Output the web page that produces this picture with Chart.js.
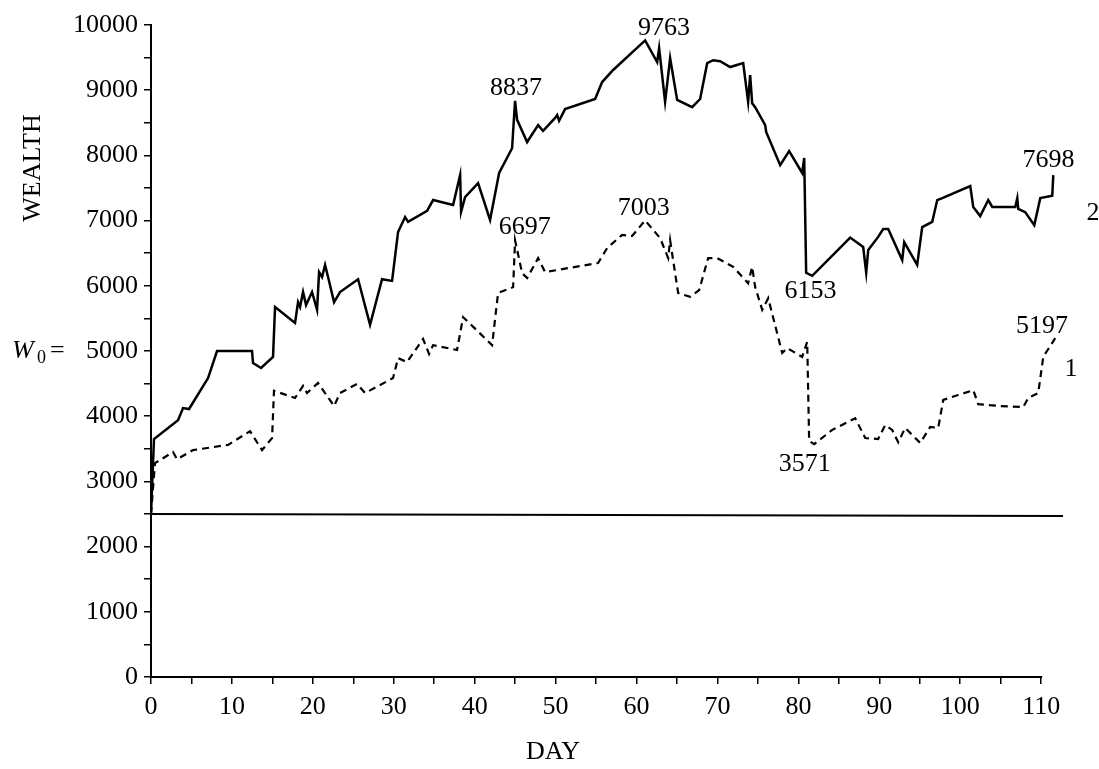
<!DOCTYPE html>
<html>
<head>
<meta charset="utf-8">
<script src="https://cdn.jsdelivr.net/npm/chart.js@4.4.0/dist/chart.umd.min.js"></script>
<style>
  body { margin: 0; background: #fff; }
  #wrap { width: 1099px; height: 769px; }
</style>
</head>
<body>
<div id="wrap"><canvas id="wealthChart" width="1099" height="769"></canvas></div>
<script>
// curve 2 (solid)
const days2 = [0, 0.37, 3.34, 3.96, 4.70, 7.05, 8.16, 12.48, 12.61, 13.60, 15.08, 15.33, 17.80, 18.17, 18.42, 18.79,
  19.16, 19.90, 20.52, 20.77, 21.14, 21.51, 21.88, 22.62, 23.36, 25.59, 27.07, 28.55, 29.79, 30.53, 31.40, 31.77,
  34.12, 34.86, 37.33, 38.20, 38.32, 38.81, 40.42, 41.90, 43.02, 44.62, 44.99, 45.24, 46.48, 47.84, 48.45, 49.94,
  50.19, 50.43, 51.17, 54.88, 55.75, 57.11, 61.06, 62.55, 62.79, 63.53, 64.15, 65.02, 66.87, 67.86, 68.73, 69.47,
  70.33, 71.57, 73.18, 73.79, 74.04, 74.29, 74.66, 75.90, 76.02, 77.75, 78.86, 80.47, 80.72, 80.96, 81.71, 86.40,
  88.01, 88.38, 88.63, 89.86, 90.48, 91.10, 92.83, 93.08, 94.68, 95.30, 96.54, 97.16, 97.78, 101.24, 101.61, 102.47,
  103.46, 103.96, 106.80, 107.05, 107.17, 108.03, 109.15, 109.89, 111.37, 111.50];
const wealth2 = [2500, 3650, 3940, 4125, 4110, 4585, 5000, 5000, 4815, 4740, 4910, 5675, 5430, 5750, 5675, 5905,
  5705, 5905, 5630, 6210, 6135, 6320, 6135, 5750, 5905, 6100, 5400, 6100, 6075, 6825, 7055, 6980,
  7150, 7315, 7240, 7700, 7135, 7360, 7575, 7010, 7730, 8110, 8837, 8545, 8205, 8465, 8375, 8575,
  8620, 8530, 8710, 8865, 9125, 9310, 9763, 9430, 9645, 8820, 9490, 8850, 8740, 8865, 9415, 9460,
  9445, 9355, 9415, 8820, 9230, 8800, 8740, 8465, 8360, 7850, 8065, 7730, 7960, 6200, 6153, 6740,
  6595, 6200, 6550, 6750, 6870, 6870, 6395, 6670, 6320, 6900, 6980, 7315, 7345, 7530, 7210, 7070,
  7315, 7210, 7210, 7345, 7180, 7130, 6930, 7345, 7380, 7698];

// curve 1 (dashed)
const days1 = [0, 0.49, 2.72, 3.21, 5.19, 9.52, 12.24, 13.72, 14.96, 15.20, 17.80, 18.79, 19.28, 20.64, 22.62, 23.36,
  25.46, 26.45, 29.91, 30.53, 31.64, 33.62, 34.36, 34.86, 37.82, 38.57, 42.15, 42.89, 44.75, 44.99, 45.86, 46.48,
  47.84, 48.70, 55.25, 56.37, 58.22, 59.46, 61.06, 62.92, 63.91, 64.15, 64.52, 65.14, 66.63, 67.74, 68.85, 69.96,
  71.94, 73.79, 74.29, 74.66, 75.53, 76.27, 78.00, 78.62, 80.47, 81.09, 81.33, 81.95, 84.18, 87.02, 88.26, 89.86,
  90.73, 91.59, 92.34, 93.20, 95.06, 96.29, 97.28, 97.90, 99.75, 101.61, 102.22, 104.94, 107.79, 108.41, 109.64,
  110.26, 111.74];
const wealth1 = [2500, 3280, 3450, 3340, 3480, 3560, 3770, 3480, 3665, 4390, 4280, 4465, 4355, 4510, 4155, 4355,
  4495, 4355, 4585, 4890, 4830, 5185, 4955, 5090, 5015, 5520, 5090, 5890, 5980, 6697, 6195, 6120,
  6425, 6210, 6350, 6580, 6780, 6765, 7003, 6730, 6425, 6700, 6395, 5890, 5830, 5935, 6425, 6425,
  6290, 6040, 6290, 5980, 5630, 5810, 4970, 5045, 4910, 5140, 3620, 3571, 3790, 3970, 3665, 3650,
  3865, 3790, 3600, 3820, 3590, 3835, 3820, 4250, 4325, 4400, 4185, 4155, 4140, 4280, 4355,
  4910, 5197];

// starting wealth line
const baseDays = [0, 112.7];
const baseWealth = [2500, 2470];

const xTicks = [0, 10, 20, 30, 40, 50, 60, 70, 80, 90, 100, 110];
const yTicks = [0, 1000, 2000, 3000, 4000, 5000, 6000, 7000, 8000, 9000, 10000];
const X_AXIS_END = 110;

// value labels next to the curves
const peakLabels = ["9763", "8837", "7003", "6697", "6153", "7698", "5197", "3571"];
const peakDays = [63.4, 45.1, 60.9, 46.2, 81.5, 110.9, 110.1, 80.8];
const peakWealth = [9954, 9034, 7193, 6902, 5920, 7929, 5383, 3267];

const FONT = '"Liberation Serif", "Times New Roman", serif';

function toPoints(xs, ys) {
    return xs.map((x, i) => ({ x: x, y: ys[i] }));
}

const textPlugin = {
    id: "textPlugin",
    beforeDatasetsDraw(chart) {
        // bottom axis line only runs to day 110
        const c = chart.ctx;
        const xs = chart.scales.x;
        const yb = chart.chartArea.bottom;
        c.save();
        c.strokeStyle = "#000";
        c.lineWidth = 2;
        c.beginPath();
        c.moveTo(xs.getPixelForValue(0) - 1, yb);
        c.lineTo(xs.getPixelForValue(X_AXIS_END) + 1, yb);
        c.stroke();
        c.restore();
    },
    afterDraw(chart) {
        const ctx = chart.ctx;
        const xs = chart.scales.x, ys = chart.scales.y;
        ctx.save();
        ctx.fillStyle = "#000";
        ctx.font = "26px " + FONT;
        ctx.textAlign = "center";
        ctx.textBaseline = "middle";

        peakLabels.forEach((t, i) => {
            ctx.fillText(t, xs.getPixelForValue(peakDays[i]), ys.getPixelForValue(peakWealth[i]));
        });

        // curve numbers
        ctx.fillText("2", xs.getPixelForValue(116.4), ys.getPixelForValue(7117));
        ctx.fillText("1", xs.getPixelForValue(113.7), ys.getPixelForValue(4724));

        // axis titles
        ctx.fillText("DAY", 553, 752);
        ctx.save();
        ctx.translate(33, 168);
        ctx.rotate(-Math.PI / 2);
        ctx.fillText("WEALTH", 0, 0);
        ctx.restore();

        // W0 =
        const y5 = ys.getPixelForValue(5000);
        ctx.textAlign = "left";
        ctx.font = "italic 26px " + FONT;
        ctx.fillText("W", 12, y5);
        ctx.font = "18px " + FONT;
        ctx.fillText("0", 37, y5 + 7);
        ctx.font = "26px " + FONT;
        ctx.fillText("=", 50, y5);
        ctx.restore();
    }
};

const ctx = document.getElementById("wealthChart").getContext("2d");
new Chart(ctx, {
    type: "line",
    data: {
        datasets: [
            {
                label: "2",
                data: toPoints(days2, wealth2),
                borderColor: "#000",
                borderWidth: 2.5,
                pointRadius: 0,
                tension: 0
            },
            {
                label: "1",
                data: toPoints(days1, wealth1),
                borderColor: "#000",
                borderWidth: 2.2,
                borderDash: [7, 5],
                pointRadius: 0,
                tension: 0
            },
            {
                label: "W0",
                data: toPoints(baseDays, baseWealth),
                borderColor: "#000",
                borderWidth: 2,
                pointRadius: 0,
                tension: 0
            }
        ]
    },
    options: {
        responsive: false,
        animation: false,
        layout: { padding: { top: 25, right: 36, left: 0, bottom: 0 } },
        plugins: {
            legend: { display: false },
            tooltip: { enabled: false }
        },
        scales: {
            x: {
                type: "linear",
                min: 0,
                max: 112.7,
                border: { display: false },
                grid: { drawOnChartArea: false, drawTicks: true, tickLength: 7, color: "#000", lineWidth: 1.5 },
                ticks: {
                    autoSkip: false,
                    maxRotation: 0,
                    padding: 8,
                    color: "#000",
                    font: { family: FONT, size: 26 },
                    callback: v => xTicks.includes(v) ? String(v) : ""
                },
                afterBuildTicks: s => {
                    const list = [];
                    for (let v = 0; v <= X_AXIS_END; v += 5) list.push({ value: v });
                    s.ticks = list;
                },
                afterFit: s => { s.height = 92; }
            },
            y: {
                min: 0,
                max: 10000,
                border: { color: "#000", width: 2 },
                grid: { drawOnChartArea: false, drawTicks: true, tickLength: 7, color: "#000", lineWidth: 1.5 },
                ticks: {
                    stepSize: 500,
                    autoSkip: false,
                    padding: 6,
                    color: "#000",
                    font: { family: FONT, size: 26 },
                    callback: v => yTicks.includes(v) ? String(v) : ""
                },
                afterFit: s => { s.width = 151; }
            }
        }
    },
    plugins: [textPlugin]
});
</script>
</body>
</html>
